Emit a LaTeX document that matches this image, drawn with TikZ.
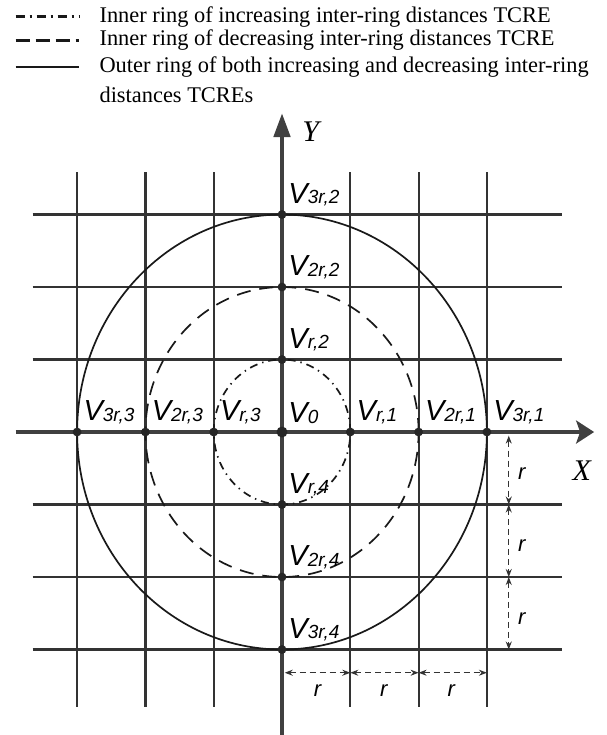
\documentclass[tikz,border=0pt]{standalone}
\usepackage{fontspec}
\setmainfont{Liberation Serif}
\setsansfont{Liberation Sans}
\usetikzlibrary{arrows.meta, positioning}
\newcommand{\vname}[1]{{\sffamily\itshape\fontsize{14.5}{14.5}\selectfont V\raisebox{-0.3pt}{\fontsize{9.5}{9.5}\selectfont #1}}}

\begin{document}
\begin{tikzpicture}[
        x=34.15pt,
        y=36.25pt,
        >={Stealth[length=4pt, width=3pt]},
        gridline/.style={line width=1.1pt, black!80},
        axisline/.style={line width=2.3pt, black!75},
        ring/.style={line width=0.85pt, black!90},
        inc ring/.style={ring, dash pattern=on 4pt off 2.5pt on 0.7pt off 2.5pt},
        dec ring/.style={ring, dash pattern=on 7pt off 4.5pt},
        dot/.style={circle, fill=black!85, inner sep=0pt, minimum size=4.4pt},
        vlabel/.style={inner sep=0pt},
        dim/.style={<->, line width=0.55pt, black!80, dash pattern=on 3pt off 2pt},
        rlabel/.style={inner sep=0pt, font=\sffamily\itshape\fontsize{11}{11}\selectfont},
        legend/.style={inner sep=0pt, anchor=west, font=\fontsize{11.2}{13.75}\selectfont},
        axislabel/.style={inner sep=0pt, font=\fontsize{15}{15}\selectfont\itshape}
    ]
    \useasboundingbox (-4.129,-4.179) rectangle (4.758,5.959);

    % legend
    \coordinate (la1) at (-3.9,5.73);
    \coordinate (lb1) at (-2.97,5.73);
    \coordinate (la2) at (-3.9,5.40);
    \coordinate (lb2) at (-2.97,5.40);
    \coordinate (la3) at (-3.9,5.03);
    \coordinate (lb3) at (-2.97,5.03);
    \draw[inc ring, line width=1.1pt, dash pattern=on 4.5pt off 2.5pt on 1pt off 2.5pt] (la1) -- (lb1);
    \draw[dec ring, line width=1.1pt, dash pattern=on 7pt off 3pt] (la2) -- (lb2);
    \draw[ring, line width=1.1pt] (la3) -- (lb3);
    \node[legend, right=10pt of lb1] (leg1) {Inner ring of increasing inter-ring distances TCRE};
    \node[legend, right=10pt of lb2] (leg2) {Inner ring of decreasing inter-ring distances TCRE};
    \node[legend, right=10pt of lb3] (leg3) {Outer ring of both increasing and decreasing inter-ring};
    \node[legend] (leg4) at ([yshift=-13.75pt]leg3.west) {distances TCREs};

    % grid
    \foreach \i in {-3,-2,-1,1,2,3} {
        \draw[gridline] (\i,-3.79) -- (\i,3.59);
        \draw[gridline] (-3.65,\i) -- (4.1,\i);
    }

    \coordinate (v0) at (0,0);

    % rings
    \draw[inc ring] (v0) ellipse [x radius=1, y radius=1];
    \draw[dec ring] (v0) ellipse [x radius=2, y radius=2];
    \draw[ring] (v0) ellipse [x radius=3, y radius=3];

    % axes
    \coordinate (xl) at (-3.9,0);
    \coordinate (xr) at (4.57,0);
    \coordinate (ybot) at (0,-4.179);
    \coordinate (ytop) at (0,4.4);
    \draw[axisline, -{Stealth[length=9pt, width=11.5pt, inset=2pt]}] (xl) -- (xr);
    \draw[axisline, -{Triangle[length=12pt, width=8pt]}] (ybot) -- (ytop);
    \node[axislabel] (xlab) at (4.39,-0.54) {X};
    \node[axislabel] (ylab) at (0.42,4.14) {Y};

    % vertices
    \node[dot, minimum size=5.5pt] (c0) at (v0) {};
    \node[vlabel, above right=4pt and 3pt of v0] (l0) {\vname{0}};
    \foreach \nm/\px/\py/\lab in {r1/1/0/{r,1}, 2r1/2/0/{2r,1}, 3r1/3/0/{3r,1},
            r2/0/1/{r,2}, 2r2/0/2/{2r,2}, 3r2/0/3/{3r,2},
            r3/-1/0/{r,3}, 2r3/-2/0/{2r,3}, 3r3/-3/0/{3r,3},
            r4/0/-1/{r,4}, 2r4/0/-2/{2r,4}, 3r4/0/-3/{3r,4}} {
        \node[dot] (v\nm) at (\px,\py) {};
        \node[vlabel, above right=4pt and 3pt of v\nm.center] (l\nm) {\vname{\lab}};
    }

    % dimensions
    \coordinate (d0) at (3.32,-0.05);
    \coordinate (d1) at (3.32,-1);
    \coordinate (d2) at (3.32,-2);
    \coordinate (d3) at (3.32,-3);
    \draw[dim] (d0) -- (d1);
    \draw[dim] (d1) -- (d2);
    \draw[dim] (d2) -- (d3);
    \node[rlabel] (dr1) at (3.51,-0.57) {r};
    \node[rlabel] (dr2) at (3.51,-1.57) {r};
    \node[rlabel] (dr3) at (3.51,-2.57) {r};

    \coordinate (h0) at (0.04,-3.32);
    \coordinate (h1) at (1,-3.32);
    \coordinate (h2) at (2,-3.32);
    \coordinate (h3) at (3,-3.32);
    \draw[dim] (h0) -- (h1);
    \draw[dim] (h1) -- (h2);
    \draw[dim] (h2) -- (h3);
    \node[rlabel] (hr1) at (0.52,-3.57) {r};
    \node[rlabel] (hr2) at (1.49,-3.57) {r};
    \node[rlabel] (hr3) at (2.48,-3.57) {r};
\end{tikzpicture}
\end{document}
